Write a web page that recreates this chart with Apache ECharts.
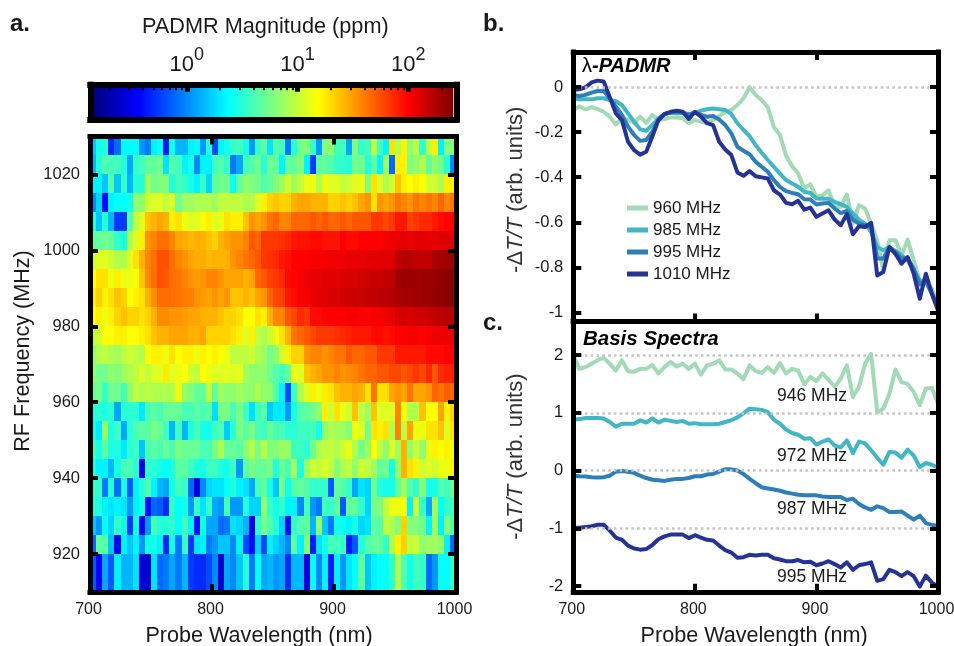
<!DOCTYPE html>
<html><head><meta charset="utf-8">
<style>html,body{margin:0;padding:0;background:#fff}#c{width:954px;height:646px}</style>
<script src="https://cdn.jsdelivr.net/npm/echarts@6/dist/echarts.min.js"></script>
</head><body><div id="c"></div>
<script>
const FONT='Liberation Sans';
// panel a: log10(ppm), one list per RF row (lower edge of row in MHz); 60 wavelength columns from 700 nm in 5 nm steps
const r1025=[.2,.45,.5,-.3,-.1,.38,.38,.4,.05,-.05,.35,.4,-.35,.45,.15,.15,.35,.38,.05,.5,-.2,.35,.45,.55,.6,.45,.05,.55,.7,.3,.65,.6,-.05,.5,.75,.8,.55,.05,.8,.85,.6,.6,.1,.8,.55,.6,1,.6,.35,1.3,.95,1.25,.85,1,.55,1,1.25,.35,.8,.8];
const r1020=[.15,.5,.65,.6,.6,.5,.1,.55,.6,.7,.7,.75,.3,.65,.6,.35,.45,0,.35,.35,.6,.65,.55,-.05,.1,.6,.65,.75,.5,.75,.7,.35,.7,.7,.8,.35,-.25,.7,.7,.65,.55,.55,.5,.75,.75,.5,.7,.35,.9,-.1,1.25,1.25,.8,.85,.95,.7,.85,.75,.5,0];
const r1015=[.35,.35,.2,.65,.2,.55,.15,.5,.5,.9,.75,.8,.8,.5,.6,.55,.45,.35,.55,.25,.7,.75,.75,.4,.7,.85,.8,.75,.65,.7,.8,.9,1.05,.9,1,1.15,1.15,.95,1.15,1.1,1.1,1,1.05,1.1,1.15,.8,1.3,1.1,.95,1.05,1.4,1.25,1.2,1.25,1.2,1.05,1.05,.95,1.25,1.25];
const r1010=[0,.25,-.4,.35,.4,.4,.45,.85,.85,1.05,1.1,1.1,1,1.1,.75,.9,.9,.95,.95,.95,.9,1,1,1,1,.95,.95,1.1,1.25,1.35,1.4,1.35,1.35,1.45,1.5,1.5,1.45,1.45,1.45,1.35,1.35,1.4,1.35,1.4,1.5,1.55,1.3,1.55,1.5,1.55,1.65,1.6,1.55,1.65,1.6,1.65,1.6,1.7,1.6,1.65];
const r1005=[.5,.2,.5,.15,-.25,-.25,.65,1,1.1,1.4,1.45,1.5,1.45,1.25,1.3,1.15,1.1,1.1,1.2,1.25,1.1,1.15,1.3,1.25,1.25,1.4,1.55,1.5,1.55,1.65,1.7,1.6,1.6,1.7,1.7,1.7,1.75,1.7,1.75,1.7,1.7,1.75,1.7,1.75,1.75,1.75,1.85,1.85,1.8,1.85,1.95,1.95,1.82,1.85,1.9,1.9,1.95,2,2.02,2.03];
const r1000=[.7,.7,.75,.7,.55,.45,.95,1.1,1.25,1.55,1.6,1.67,1.67,1.6,1.5,1.47,1.43,1.47,1.45,1.4,1.35,1.45,1.5,1.55,1.55,1.6,1.75,1.7,1.85,1.85,1.85,1.87,1.9,1.95,1.97,1.97,2,2,1.97,1.97,1.97,2.05,2,2,2.03,2.03,2.03,2.03,2.06,2.08,2.1,2.12,2.1,2.12,2.12,2.1,2.12,2.14,2.14,2.14];
const r995=[1.05,1.1,1.1,1.05,.95,.95,1.1,1.3,1.45,1.6,1.68,1.77,1.77,1.68,1.6,1.55,1.5,1.47,1.47,1.43,1.45,1.45,1.45,1.55,1.6,1.65,1.7,1.75,1.85,1.87,1.9,1.95,1.98,2.03,2.03,2.03,2.05,2.05,2.05,2.07,2.07,2.07,2.1,2.1,2.1,2.12,2.12,2.12,2.13,2.13,2.24,2.26,2.26,2.24,2.22,2.22,2.3,2.32,2.33,2.36];
const r990=[1.2,1.3,1.3,1.15,1.25,1.15,1.15,1.2,1.4,1.58,1.68,1.77,1.75,1.68,1.65,1.6,1.55,1.52,1.55,1.6,1.6,1.55,1.5,1.5,1.5,1.45,1.5,1.7,1.75,1.82,1.85,1.9,2,2.02,2.05,2.08,2.1,2.1,2.12,2.12,2.12,2.15,2.15,2.15,2.17,2.18,2.2,2.2,2.22,2.22,2.33,2.35,2.34,2.34,2.34,2.35,2.36,2.38,2.4,2.42];
const r985=[1.25,1.35,1.25,1.3,1.4,1.35,1.2,1.25,1.3,1.45,1.58,1.68,1.68,1.68,1.65,1.62,1.62,1.55,1.53,1.5,1.55,1.5,1.55,1.4,1.4,1.45,1.4,1.5,1.55,1.7,1.8,1.82,1.95,2,2.05,2.05,2.1,2.12,2.12,2.15,2.15,2.18,2.18,2.2,2.2,2.22,2.22,2.25,2.25,2.27,2.3,2.32,2.32,2.34,2.34,2.35,2.38,2.39,2.4,2.42];
const r980=[1.2,1.25,1.15,1.25,1.35,1.4,1.35,1.35,1.3,1.35,1.45,1.58,1.58,1.55,1.55,1.52,1.5,1.5,1.45,1.45,1.45,1.4,1.35,1.35,1.3,1.2,1.2,1.3,1.25,1.45,1.6,1.6,1.75,1.8,1.9,1.85,2,2,2.02,2.03,2.03,2.03,2.05,2.05,2.03,2.03,2.05,2.05,2.08,2.1,2.15,2.17,2.15,2.18,2.18,2.2,2.22,2.25,2.26,2.27];
const r975=[1,1.05,1.2,1.2,1.25,1.25,1.2,1.2,1.25,1.3,1.4,1.45,1.45,1.5,1.5,1.5,1.45,1.45,1.5,1.35,1.35,1.35,1.35,1.3,1.25,1.1,1.25,1,.95,1.05,1.15,1.3,1.45,1.65,1.7,1.75,1.8,1.85,1.85,1.85,1.88,1.9,1.92,1.95,1.95,1.95,2,2,1.98,2,2.03,2.03,2.05,2.05,2.03,2.05,2.08,2.08,2.1,2.1];
const r970=[.85,.95,1,.95,.9,1,1.05,1,.95,1.2,1.25,1.25,1.15,1.3,1.2,1.25,1.25,1.15,1.25,1.2,1.25,1.2,1.15,1,1,1,1.05,.95,.9,.75,.85,1.05,1.25,1.35,1.35,1.55,1.6,1.6,1.55,1.6,1.65,1.65,1.75,1.7,1.7,1.75,1.75,1.85,1.85,1.85,1.95,1.95,1.95,1.95,1.95,2,2,2,2.03,2.03];
const r965=[.85,.75,.75,.85,.8,.9,.95,1,1.1,1,1.1,1.1,1.27,1.1,1.15,1.2,1.05,1,1.2,1.15,1.1,1.1,1.12,1.1,1.12,.9,.85,.85,.85,.75,.65,.6,.7,1.15,1.1,1.4,1.45,1.5,1.55,1.55,1.6,1.55,1.58,1.6,1.65,1.7,1.7,1.75,1.75,1.8,1.8,1.75,1.8,1.85,1.8,1.9,1.75,1.9,1.92,1.92];
const r960=[.7,.75,.55,.75,.75,.6,.85,1,.95,1,.95,.95,.95,.95,1.15,.85,.8,.7,.7,1,.7,.9,.85,.85,.9,.85,.85,.95,.85,.85,.65,.35,-.2,.55,.95,1.1,1.25,1.15,1.25,1.3,1.4,1.45,1.45,1.5,1.45,1.3,1.65,1.3,1.3,1.5,1.55,1.5,1.65,1.5,1.5,1.55,1.7,1.65,1.72,1.7];
const r955=[.48,.52,.48,.52,.1,.52,.52,.52,.32,.62,.68,.62,.72,.72,.72,.62,.62,.68,.62,.68,.28,.78,.78,.62,.78,.58,.28,.58,.68,.22,.32,.32,.05,.45,.65,.7,.75,.85,1.25,1.05,1.3,1.15,1.05,1.4,1,.9,1.4,1.1,1.1,1.1,1.6,1.2,.95,.95,1.4,1.2,1.2,1.5,1.25,1.35];
const r950=[.45,.32,.88,.48,.58,.1,.52,.62,.68,.68,.78,.72,.58,.15,.58,.15,.48,.62,.45,.45,.58,.62,.22,.52,.78,.68,.78,.62,.58,.72,.62,.62,.52,.52,.58,.58,.6,.45,.85,.95,.9,.9,.8,1.15,1.1,.75,1.3,1.25,1.3,.95,1.6,1,1.5,1.15,1.15,1.3,1.3,1.4,1.1,1.3];
const r945=[.58,.48,.68,.48,.48,.32,.52,.58,.2,.62,.68,.62,.72,.62,.78,.72,.72,.72,.62,.62,.78,.95,.72,.72,.68,.82,.98,.78,.98,.78,.82,.88,.88,.58,.58,.52,.75,.95,1,1,.95,1.05,1.15,.95,.75,.9,1.2,1,.85,1.1,.9,1.45,.85,1.05,.85,1.15,1.25,1.2,1.25,1.15];
const r940=[.48,.35,.35,.15,.45,.62,.62,.52,-.5,.52,.52,.45,.4,.48,.68,.68,.58,.48,.45,.58,.58,.48,.45,.58,.05,.68,.78,.72,.72,.78,.48,.72,.62,.92,.48,.88,1.05,1,1.1,1,.8,.95,1,.85,1.05,1,.9,.7,.75,.45,.85,1.45,1.3,1.25,1.05,1.1,1.05,1.15,1.15,1.25];
const r935=[.55,.55,-.05,.5,-.1,.45,-.15,.35,.5,.65,.35,.15,.1,.45,.6,.55,-.1,-.55,0,.25,.3,.3,.4,.5,.35,.3,.1,.6,.7,.45,.2,.75,.45,.65,.7,.65,.55,.55,.55,-.15,.7,.65,.55,.1,.3,.25,.75,.5,.45,.45,.7,.9,.65,.55,.8,.45,.45,.65,.6,.75];
const r930=[.5,.5,.35,.3,.35,.3,.05,.35,.45,-.4,-.1,-.15,-.3,.55,.4,.45,.05,.55,.3,.55,.1,.05,.6,.05,.05,.5,.25,.25,.85,.55,.45,.55,.35,.35,0,.6,.05,-.05,.6,.55,.7,-.15,.7,.7,.55,.25,.75,.8,1,1.15,1.15,1.2,.35,1.05,.55,.1,.9,.4,.55,.6];
const r925=[.2,.05,.4,.25,.55,.45,-.25,.45,-.45,.05,.6,.5,.5,.55,.4,.6,.35,-.4,.45,.1,.1,-.1,-.05,.3,.25,.15,-.5,.55,.75,.65,.5,.25,-.4,.55,.65,.7,.15,.85,.2,-.05,.45,.4,.35,.45,.25,.3,.7,.65,1,.95,.8,1.35,.8,.8,.75,.35,.9,.35,.8,.65];
const r920=[-.1,.7,.65,.2,-.45,.35,.2,.35,.05,.45,.45,.35,-.3,.45,-.05,.55,-.25,.3,.35,-.05,.05,.2,.2,0,.35,-.2,-.4,.25,-.2,.35,.25,.15,0,.7,.35,.8,-.35,.3,.45,.6,.6,.55,-.35,-.15,.5,.65,.7,.7,.55,.95,1.25,1.35,1,1.05,.85,.9,.9,.85,.35,-.1];
const r910=[-.15,-.45,.1,-.15,.35,.15,.15,.3,-.55,-.6,.3,-.1,-.05,.1,-.05,.15,-.25,-.3,-.3,-.2,0,-.6,.1,0,.2,.5,-.05,.4,.1,.15,.05,.1,-.3,.15,.15,-.55,.4,0,.35,-.35,.35,.05,.3,.4,.7,.2,.35,.4,.4,.55,.95,.65,.45,.6,.55,-.1,.05,.4,.4,.55];
const rowEdges=[1030,1025,1020,1015,1010,1005,1000,995,990,985,980,975,970,965,960,955,950,945,940,935,930,925,920,910];
const magnitudeRows=[r1025,r1020,r1015,r1010,r1005,r1000,r995,r990,r985,r980,r975,r970,r965,r960,r955,r950,r945,r940,r935,r930,r925,r920,r910];

// panels b, c: shared wavelength grid
const wavelengths=[700,705,710,715,720,725,730,735,740,745,750,755,760,765,770,775,780,785,790,795,800,805,810,815,820,825,830,835,840,845,850,855,860,865,870,875,880,885,890,895,900,905,910,915,920,925,930,935,940,945,950,955,960,965,970,975,980,985,990,995,1000];
const b960=[-.102,-.087,-.099,-.09,-.098,-.11,-.132,-.166,-.139,-.144,-.159,-.132,-.159,-.124,-.147,-.142,-.135,-.135,-.139,-.161,-.147,-.154,-.161,-.147,-.129,-.11,-.102,-.08,-.05,-.001,-.036,-.058,-.09,-.179,-.213,-.305,-.351,-.384,-.45,-.431,-.487,-.48,-.458,-.532,-.532,-.477,-.606,-.524,-.539,-.606,-.68,-.813,-.68,-.68,-.747,-.677,-.769,-.858,-.865,-.895,-.961];
const b985=[-.05,-.055,-.055,-.055,-.05,-.05,-.058,-.063,-.08,-.117,-.154,-.188,-.194,-.169,-.139,-.12,-.114,-.117,-.117,-.12,-.117,-.105,-.099,-.096,-.099,-.102,-.12,-.161,-.191,-.218,-.258,-.292,-.324,-.354,-.384,-.413,-.428,-.443,-.465,-.47,-.495,-.496,-.496,-.51,-.52,-.532,-.561,-.588,-.606,-.643,-.71,-.724,-.71,-.727,-.747,-.769,-.813,-.858,-.865,-.917,-.961];
const b995=[-.035,-.04,-.035,-.025,-.018,-.018,-.05,-.087,-.124,-.176,-.213,-.239,-.235,-.199,-.147,-.12,-.113,-.11,-.113,-.124,-.113,-.124,-.132,-.129,-.144,-.169,-.206,-.265,-.283,-.298,-.332,-.354,-.376,-.413,-.443,-.462,-.47,-.476,-.498,-.499,-.521,-.517,-.514,-.539,-.559,-.55,-.588,-.606,-.613,-.621,-.761,-.761,-.713,-.732,-.761,-.761,-.806,-.876,-.858,-.917,-.984];
const b1010=[-.013,-.01,-.002,.02,.028,.024,-.045,-.117,-.147,-.243,-.28,-.3,-.287,-.22,-.147,-.12,-.11,-.105,-.11,-.142,-.11,-.132,-.16,-.169,-.243,-.277,-.302,-.379,-.394,-.373,-.396,-.401,-.406,-.458,-.477,-.514,-.52,-.505,-.544,-.535,-.576,-.561,-.547,-.588,-.613,-.564,-.653,-.618,-.621,-.603,-.836,-.821,-.71,-.74,-.784,-.754,-.828,-.939,-.828,-.917,-.991];
const c946=[1.99,1.76,1.79,1.85,1.91,1.95,1.85,1.73,1.91,1.72,1.71,1.76,1.76,1.83,1.68,1.79,1.88,1.8,1.85,1.76,1.85,1.66,1.82,1.85,1.91,1.75,1.75,1.68,1.58,1.82,1.72,1.69,1.79,1.69,1.86,1.68,1.76,1.73,1.49,1.62,1.55,1.68,1.57,1.45,1.59,1.82,1.27,1.45,1.85,2.02,1.01,1.07,1.33,1.75,1.53,1.5,1.36,1.13,1.42,1.43,1.16];
const c972=[.88,.89,.91,.91,.91,.9,.84,.76,.81,.81,.81,.87,.83,.9,.83,.88,.86,.84,.86,.81,.82,.8,.8,.8,.81,.84,.87,.92,.99,1.07,1.06,1.05,1.01,.88,.81,.71,.65,.62,.55,.56,.45,.5,.54,.43,.4,.52,.3,.5,.47,.35,.22,.1,.32,.31,.22,.36,.26,.06,.13,.1,.05];
const c987=[-.09,-.1,-.105,-.115,-.12,-.115,-.09,-.02,-.01,-.02,-.04,-.09,-.13,-.16,-.17,-.18,-.16,-.145,-.145,-.13,-.1,-.1,-.07,-.06,-.02,.02,.02,0,-.06,-.145,-.22,-.29,-.31,-.33,-.35,-.38,-.4,-.42,-.43,-.43,-.43,-.45,-.46,-.46,-.46,-.51,-.49,-.58,-.64,-.68,-.62,-.65,-.72,-.72,-.71,-.78,-.85,-.78,-.91,-.94,-.965];
const c995=[-.99,-.99,-.98,-.965,-.94,-.94,-1.04,-1.16,-1.2,-1.3,-1.35,-1.37,-1.36,-1.29,-1.19,-1.14,-1.11,-1.11,-1.11,-1.17,-1.12,-1.16,-1.2,-1.21,-1.3,-1.38,-1.42,-1.51,-1.5,-1.46,-1.47,-1.46,-1.46,-1.52,-1.54,-1.57,-1.57,-1.55,-1.59,-1.58,-1.64,-1.61,-1.57,-1.62,-1.68,-1.59,-1.72,-1.64,-1.62,-1.59,-1.91,-1.88,-1.72,-1.76,-1.83,-1.76,-1.83,-2.01,-1.82,-1.94,-2.01];
const bTicks=[0,-.2,-.4,-.6,-.8,-1];
const cTicks=[2,1,0,-1,-2];
const freqTicks=[920,940,960,980,1000,1020];
const xTicks=[700,800,900,1000];
const cbMajor=[1,10,100];
const cbMinor=[.2,.3,.4,.5,.6,.7,.8,.9,2,3,4,5,6,7,8,9,20,30,40,50,60,70,80,90,200];
const jet=['#00007F','#0000FF','#007FFF','#00FFFF','#7FFF7F','#FFFF00','#FF7F00','#FF0000','#7F0000'];
const colors={a:'#a1dab4',b:'#41b6c4',c:'#2c7fb8',d:'#253494'};

const heatData=[];
magnitudeRows.forEach((row,r)=>row.forEach((v,i)=>heatData.push([wavelengths[i],wavelengths[i+1],rowEdges[r+1],rowEdges[r],v])));

const frameLine={lineStyle:{color:'#000',width:5,cap:'square'}};
function xAx(grid,min,max,pos,opts){return Object.assign({type:'value',gridIndex:grid,min,max,position:pos,z:6,axisLine:Object.assign({show:true,onZero:false},frameLine),splitLine:{show:false},
  axisTick:{show:true,inside:true,length:8,customValues:[800,900],lineStyle:{color:'#000',width:4}},axisLabel:{show:false}},opts||{});}
function yAx(grid,min,max,pos,ticks,opts){return Object.assign({type:'value',gridIndex:grid,min,max,position:pos,z:6,axisLine:Object.assign({show:true,onZero:false},frameLine),splitLine:{show:false},
  axisTick:{show:true,inside:true,length:8,customValues:ticks,lineStyle:{color:'#000',width:4}},axisLabel:{show:false}},opts||{});}
const tickLbl=(vals)=>({show:true,customValues:vals,fontFamily:FONT,fontSize:16.5,color:'#1a1a1a',margin:10,formatter:v=>String(v)});
const xLbl=()=>Object.assign(tickLbl(xTicks),{fontSize:16,padding:[0,3,0,0]});
const nameStyle={fontFamily:FONT,fontSize:21.6,color:'#1a1a1a'};
const dtName='-Δ{i|T/T} (arb. units)';
const dtStyle={fontFamily:FONT,fontSize:22,color:'#333',rich:{i:{fontFamily:FONT,fontSize:22,fontStyle:'italic',color:'#333'}}};

function lineS(name,vals,color,xi,yi){return {type:'line',name,xAxisIndex:xi,yAxisIndex:yi,symbol:'none',z:3,data:wavelengths.map((w,i)=>[w,vals[i]]),lineStyle:{color,width:4,join:'round'},itemStyle:{color},animation:false};}
function guide(vals,xi,yi,name){return {type:'line',name,xAxisIndex:xi,yAxisIndex:yi,data:[],z:1,symbol:'none',markLine:{silent:true,symbol:'none',label:{show:false},animation:false,lineStyle:{color:'#c4c4c4',width:2.6,type:[2.6,3.2]},data:vals.map(v=>({yAxis:v}))}};}
const g=(o)=>Object.assign({outerBoundsMode:'none',containLabel:false},o);
const band={show:true,onZero:false,lineStyle:{color:'#000',width:6,cap:'square'}};

const option={
  animation:false,backgroundColor:'#fff',textStyle:{fontFamily:FONT},
  grid:[
    g({left:90,top:136.5,width:366,height:455.5}),
    g({left:573.3,top:52,width:364.7,height:269.5}),
    g({left:573.3,top:321.5,width:364.7,height:270.3}),
    g({left:90.3,top:84.7,width:366,height:34.8}),
    g({left:90.3,top:84.7,width:366,height:34.8})
  ],
  xAxis:[
    xAx(0,700,1000,'bottom',{axisLabel:xLbl(),name:'Probe Wavelength (nm)',nameLocation:'middle',nameGap:33,nameTextStyle:Object.assign({padding:[0,28,0,0]},nameStyle)}),
    xAx(0,700,1000,'top'),
    xAx(1,700,1000,'top'),
    xAx(1,700,1000,'bottom'),
    xAx(2,700,1000,'bottom',{axisLabel:xLbl(),name:'Probe Wavelength (nm)',nameLocation:'middle',nameGap:33,nameTextStyle:Object.assign({padding:[0,3,0,0]},nameStyle)}),
    xAx(2,700,1000,'top',{axisTick:{show:false}}),
    xAx(3,-.871,2.433,'top',{axisLine:band,
      axisTick:{show:true,inside:true,length:7,customValues:cbMajor.map(Math.log10),lineStyle:{color:'#000',width:5}},
      axisLabel:{show:true,customValues:cbMajor.map(Math.log10),margin:9,formatter:v=>'{b|10}{s|'+Math.round(v)+'}',rich:{b:{fontFamily:FONT,fontSize:22,color:'#1a1a1a',lineHeight:30,verticalAlign:'bottom'},s:{fontFamily:FONT,fontSize:18,color:'#1a1a1a',lineHeight:30,verticalAlign:'top'}}}}),
    xAx(3,-.871,2.433,'bottom',{axisLine:band,axisTick:{show:false}}),
    xAx(4,-.871,2.433,'top',{axisLine:{show:false,onZero:false},axisTick:{show:true,inside:true,length:5.5,customValues:cbMinor.map(Math.log10),lineStyle:{color:'#000',width:2}}})
  ],
  yAxis:[
    yAx(0,910,1030,'left',freqTicks,{axisLabel:tickLbl(freqTicks)}),
    yAx(0,910,1030,'right',freqTicks),
    yAx(1,-1.04,.155,'left',bTicks,{axisLabel:tickLbl(bTicks),name:dtName,nameLocation:'middle',nameRotate:90,nameGap:46,nameTextStyle:Object.assign({padding:[0,6,0,0]},dtStyle)}),
    yAx(1,-1.04,.155,'right',bTicks),
    yAx(2,-2.1,2.58,'left',cTicks,{axisLabel:tickLbl(cTicks),name:dtName,nameLocation:'middle',nameRotate:90,nameGap:46,nameTextStyle:dtStyle}),
    yAx(2,-2.1,2.58,'right',cTicks),
    yAx(3,0,1,'left',[],{axisLine:band,axisTick:{show:false}}),
    yAx(3,0,1,'right',[],{axisLine:band,axisTick:{show:false}}),
    yAx(4,0,1,'left',[],{axisLine:{show:false,onZero:false},axisTick:{show:false}})
  ],
  visualMap:[{show:false,type:'continuous',seriesIndex:0,dimension:4,min:-.85,max:2.44,inRange:{color:jet}}],
  legend:{left:627,top:199.5,padding:0,orient:'vertical',icon:'rect',itemWidth:21,itemHeight:5,itemGap:5,selectedMode:false,data:['960 MHz','985 MHz','995 MHz','1010 MHz'],textStyle:{fontFamily:FONT,fontSize:17,color:'#1a1a1a'}},
  series:[
    {type:'custom',name:'PADMR magnitude',xAxisIndex:0,yAxisIndex:0,data:heatData,dimensions:['x0','x1','y0','y1','v'],encode:{x:[0,1],y:[2,3]},z:2,clip:true,
     renderItem(p,api){const a=api.coord([api.value(0),api.value(3)]),b=api.coord([api.value(1),api.value(2)]);
       const x=Math.round(a[0]),y=Math.round(a[1]);
       return {type:'rect',shape:{x,y,width:Math.round(b[0])-x,height:Math.round(b[1])-y},style:{fill:api.visual('color')}};}},
    {type:'custom',name:'colorbar',xAxisIndex:6,yAxisIndex:6,data:[[-.843,2.406,0,1]],encode:{x:[0,1],y:[2,3]},z:2,
     renderItem(p,api){const a=api.coord([api.value(0),api.value(3)]),b=api.coord([api.value(1),api.value(2)]);
       return {type:'rect',shape:{x:a[0],y:a[1],width:b[0]-a[0],height:b[1]-a[1]},style:{fill:{type:'linear',x:0,y:0,x2:1,y2:0,colorStops:jet.map((c,i)=>({offset:i/8,color:c}))}}};}},
    guide([0],2,2,'guide b'),
    guide([2,1,0,-1],4,4,'guide c'),
    lineS('960 MHz',b960,colors.a,2,2),
    lineS('985 MHz',b985,colors.b,2,2),
    lineS('995 MHz',b995,colors.c,2,2),
    lineS('1010 MHz',b1010,colors.d,2,2),
    lineS('946 MHz',c946,colors.a,4,4),
    lineS('972 MHz',c972,colors.b,4,4),
    lineS('987 MHz',c987,colors.c,4,4),
    lineS('995 MHz ',c995,colors.d,4,4)
  ],
  graphic:{elements:[
    ...[['a.',10,25],['b.',483,25],['c.',483,324]].map(t=>({type:'text',left:t[1],top:t[2]-13,z:20,style:{text:t[0],fontFamily:FONT,fontWeight:'bold',fontSize:24,fill:'#1a1a1a'}})),
    {type:'text',left:142,top:16,z:20,style:{text:'PADMR Magnitude (ppm)',fontFamily:FONT,fontSize:21.7,fill:'#1a1a1a'}},
    {type:'text',x:23,y:351,rotation:Math.PI/2,z:20,style:{text:'RF Frequency (MHz)',fontFamily:FONT,fontSize:21.6,fill:'#1a1a1a',align:'center',verticalAlign:'middle'}},
    {type:'text',left:582,top:56,z:20,style:{rich:{n:{fontFamily:FONT,fontSize:20,fill:'#000'},b:{fontFamily:FONT,fontSize:20,fontWeight:'bold',fontStyle:'italic',fill:'#000'}},text:'{n|λ}{b|-PADMR}',fontFamily:FONT,fontSize:20}},
    {type:'text',left:583,top:329,z:20,style:{text:'Basis Spectra',fontFamily:FONT,fontSize:20.5,fontWeight:'bold',fontStyle:'italic',fill:'#000'}},
    ...[['946 MHz',396],['972 MHz',456],['987 MHz',509],['995 MHz',577]].map(t=>({type:'text',left:777,top:t[1]-9,z:20,style:{text:t[0],fontFamily:FONT,fontSize:17.5,fill:'#1a1a1a'}}))
  ]}
};
echarts.init(document.getElementById('c'),null,{renderer:'canvas'}).setOption(option);
</script></body></html>
